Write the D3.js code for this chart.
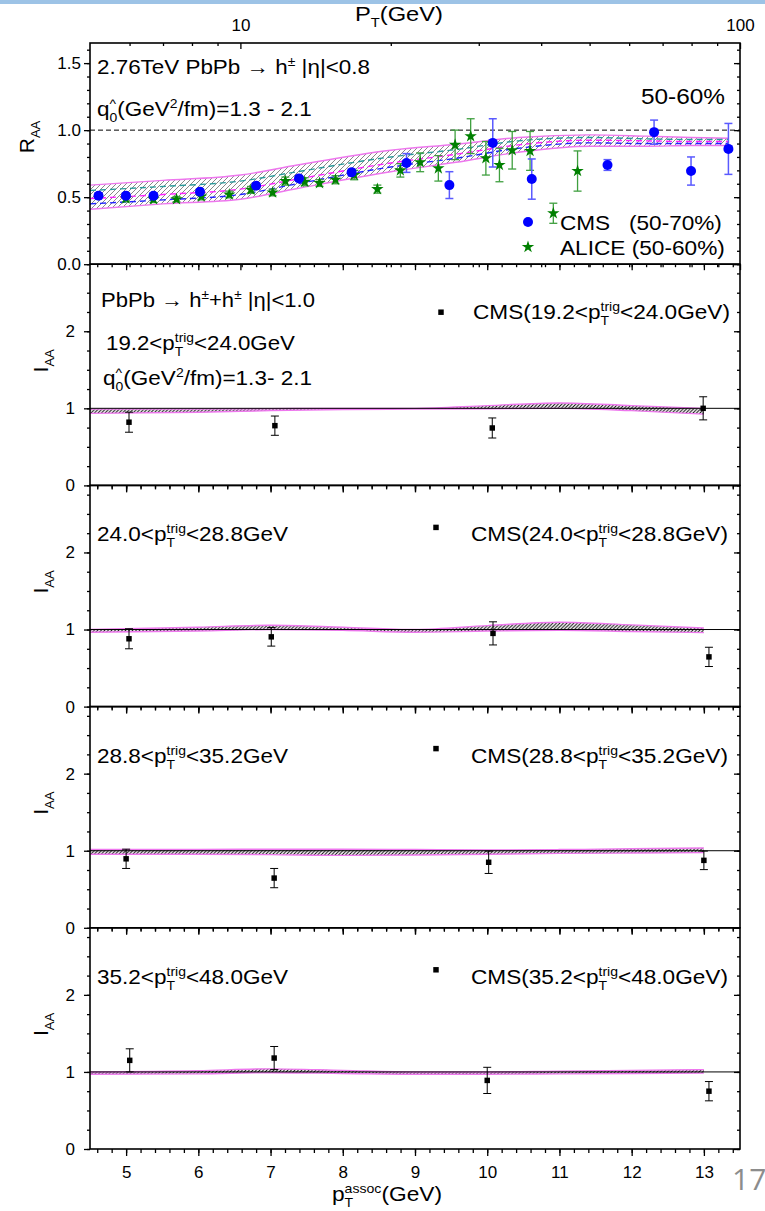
<!DOCTYPE html>
<html>
<head>
<meta charset="utf-8">
<script src="https://cdn.jsdelivr.net/npm/d3@7"></script>
<style>
body { margin: 0; background: #fff; }
svg { display: block; }
text { font-family: "Liberation Sans", Arial, sans-serif; fill: #000; }
</style>
</head>
<body>
<div id="chart"></div>
<script>
// ---- top panel: R_AA vs pT (log axis) ----
var bandPt = [5, 7, 10, 13, 20, 27, 36, 50, 65, 80, 95];
var bandUpper = [0.59, 0.625, 0.665, 0.74, 0.85, 0.895, 0.945, 0.965, 0.955, 0.945, 0.94];
var bandLower = [0.41, 0.45, 0.485, 0.565, 0.69, 0.76, 0.835, 0.88, 0.88, 0.885, 0.885];
var curveTeal = [0.55, 0.58, 0.62, 0.69, 0.80, 0.855, 0.92, 0.945, 0.935, 0.93, 0.93];
var curveMagenta = [0.49, 0.52, 0.56, 0.635, 0.755, 0.82, 0.89, 0.925, 0.92, 0.915, 0.915];
var curveBlue = [0.45, 0.48, 0.52, 0.60, 0.725, 0.79, 0.865, 0.905, 0.90, 0.90, 0.90];

var cmsPt = [5.2, 5.9, 6.7, 8.3, 10.75, 13.1, 16.7, 21.5, 26.2, 32.0, 38.3, 54.3, 67.3, 79.8, 94.8];
var cmsR = [0.51, 0.51, 0.51, 0.54, 0.585, 0.64, 0.685, 0.755, 0.59, 0.905, 0.635, 0.74, 0.985, 0.695, 0.86];
var cmsErr = [0.02, 0.02, 0.02, 0.02, 0.02, 0.02, 0.025, 0.07, 0.1, 0.18, 0.15, 0.04, 0.09, 0.105, 0.19];

var alicePt = [5.9, 6.7, 7.45, 8.35, 9.5, 10.5, 11.6, 12.3, 13.45, 14.4, 15.5, 16.9, 18.8, 20.9, 22.9, 24.9, 26.9, 28.9, 31.0, 33.0, 35.0, 38.0, 42.3, 47.3];
var aliceR = [0.49, 0.485, 0.485, 0.505, 0.52, 0.555, 0.535, 0.62, 0.615, 0.605, 0.63, 0.665, 0.56, 0.70, 0.76, 0.715, 0.89, 0.955, 0.79, 0.74, 0.85, 0.845, 0.38, 0.695];
var aliceErr = [0.025, 0.025, 0.02, 0.025, 0.025, 0.025, 0.025, 0.03, 0.03, 0.025, 0.03, 0.035, 0.03, 0.05, 0.07, 0.095, 0.11, 0.13, 0.125, 0.125, 0.14, 0.145, 0.075, 0.15];

// ---- lower panels: I_AA vs pT assoc ----
var trigBins = [["19.2", "24.0"], ["24.0", "28.8"], ["28.8", "35.2"], ["35.2", "48.0"]];
var bandAssoc = [4.5, 6, 7, 8, 9, 10, 11, 12, 13];
var iaaUpper = [
  [0.99, 0.99, 0.995, 1.0, 1.0, 1.035, 1.07, 1.035, 1.0],
  [1.0, 1.03, 1.055, 1.03, 1.0, 1.05, 1.095, 1.06, 1.02],
  [1.015, 1.015, 1.02, 1.02, 1.015, 1.01, 1.015, 1.025, 1.035],
  [1.0, 1.015, 1.04, 1.02, 1.0, 1.0, 1.01, 1.02, 1.03]
];
var iaaLower = [
  [0.935, 0.95, 0.97, 0.985, 0.99, 0.995, 1.0, 0.97, 0.925],
  [0.965, 0.98, 1.0, 0.99, 0.965, 0.98, 0.99, 0.975, 0.96],
  [0.955, 0.955, 0.95, 0.94, 0.945, 0.955, 0.965, 0.97, 0.975],
  [0.97, 0.975, 0.99, 0.98, 0.97, 0.97, 0.975, 0.98, 0.985]
];
var cmsAssoc = [
  [5.04, 7.06, 10.07, 12.99],
  [5.04, 7.01, 10.08, 13.07],
  [5.0, 7.05, 10.02, 13.0],
  [5.05, 7.05, 10.0, 13.07]
];
var cmsIaa = [
  [0.82, 0.775, 0.745, 1.0],
  [0.88, 0.905, 0.95, 0.645],
  [0.895, 0.645, 0.85, 0.875],
  [1.15, 1.18, 0.89, 0.75]
];
var cmsIaaErr = [
  [0.13, 0.125, 0.13, 0.15],
  [0.13, 0.12, 0.15, 0.125],
  [0.125, 0.125, 0.145, 0.12],
  [0.15, 0.15, 0.17, 0.125]
];

var W = 765, H = 1211;
var left = 90, right = 740, top0 = 43, panelH = 221.2;

var svg = d3.select("#chart").append("svg")
    .attr("width", W)
    .attr("height", H);

// slide strip on top
svg.append("rect").attr("x", 0).attr("y", 0).attr("width", W).attr("height", 4).style("fill", "#9dc3e6");

var defs = svg.append("defs");
function hatch(id, color, step, width) {
    defs.append("pattern")
        .attr("id", id)
        .attr("patternUnits", "userSpaceOnUse")
        .attr("width", step)
        .attr("height", step)
        .append("path")
        .attr("d", "M-1,1 l2,-2 M0," + step + " l" + step + ",-" + step + " M" + (step - 1) + "," + (step + 1) + " l2,-2")
        .style("stroke", color)
        .style("stroke-width", width);
}
hatch("hatchGray", "#555", 5, 0.7);
hatch("hatchBlack", "#000", 3.5, 1);

// text with stacked super/subscripts, optionally stretched to a width
function richText(parent, x, y, runs, size, anchor, fitW) {
    var g = parent.append("g").style("font-size", size + "px");
    var cx = 0;
    runs.forEach(function (r) {
        if (typeof r === "string") {
            var t = g.append("text").attr("x", cx).attr("y", 0).style("white-space", "pre").text(r);
            cx += t.node().getComputedTextLength();
        } else {
            var w = 0;
            if (r.sup) {
                var ts = g.append("text").attr("x", cx).attr("y", -size * 0.4)
                    .style("font-size", (size * 0.62) + "px").text(r.sup);
                w = Math.max(w, ts.node().getComputedTextLength());
            }
            if (r.sub) {
                var tb = g.append("text").attr("x", cx).attr("y", size * 0.3)
                    .style("font-size", (size * 0.62) + "px").text(r.sub);
                w = Math.max(w, tb.node().getComputedTextLength());
            }
            cx += w;
        }
    });
    var sx = fitW ? fitW / cx : 1;
    var x0 = anchor === "middle" ? x - cx * sx / 2 : x;
    g.attr("transform", "translate(" + x0 + "," + y + ") scale(" + sx + ",1)");
    return g;
}

function styleAxis(g, fontSize) {
    g.select(".domain").remove();
    g.selectAll("line").style("stroke", "#000").style("stroke-width", 1.3);
    g.selectAll("text").style("font-size", fontSize + "px").style("font-family", "Liberation Sans, Arial, sans-serif").style("fill", "#000");
}

function errorBars(g, xs, ys, es, xScale, yScale, color, w, cap) {
    var bars = g.append("g").style("stroke", color).style("stroke-width", w).style("fill", "none");
    xs.forEach(function (v, i) {
        var x = xScale(v), y0 = yScale(ys[i] - es[i]), y1 = yScale(ys[i] + es[i]);
        bars.append("line").attr("x1", x).attr("x2", x).attr("y1", y0).attr("y2", y1);
        bars.append("line").attr("x1", x - cap).attr("x2", x + cap).attr("y1", y0).attr("y2", y0);
        bars.append("line").attr("x1", x - cap).attr("x2", x + cap).attr("y1", y1).attr("y2", y1);
    });
}

function curve(g, xs, ys, xScale, yScale, color, width, dash) {
    g.append("path")
        .datum(xs.map(function (v, i) { return [v, ys[i]]; }))
        .attr("d", d3.line().curve(d3.curveMonotoneX)
            .x(function (d) { return xScale(d[0]); })
            .y(function (d) { return yScale(d[1]); }))
        .style("fill", "none")
        .style("stroke", color)
        .style("stroke-width", width)
        .style("stroke-dasharray", dash || null);
}

var xLog = d3.scaleLog().domain([5, 100]).range([left, right]);
var xLin = d3.scaleLinear().domain([4.5, 13.5]).range([left, right]);

function panelTop(i) { return top0 + i * panelH; }

// ================= panel 1 =================
var y1 = d3.scaleLinear().domain([0, 1.65]).range([panelTop(0) + panelH, panelTop(0)]);
var p1 = svg.append("g");

var bandData = bandPt.map(function (p, i) { return { p: p, lo: bandLower[i], hi: bandUpper[i] }; });
p1.append("path")
    .datum(bandData)
    .attr("d", d3.area().curve(d3.curveMonotoneX)
        .x(function (d) { return xLog(d.p); })
        .y0(function (d) { return y1(d.lo); })
        .y1(function (d) { return y1(d.hi); }))
    .style("fill", "url(#hatchGray)");

curve(p1, bandPt, bandUpper, xLog, y1, "#ee77ee", 1.4);
curve(p1, bandPt, bandLower, xLog, y1, "#ee77ee", 1.4);
curve(p1, bandPt, curveTeal, xLog, y1, "#2a9a9a", 1.4, "6,4");
curve(p1, bandPt, curveMagenta, xLog, y1, "#ff22ff", 1.4, "6,4");
curve(p1, bandPt, curveBlue, xLog, y1, "#2222ff", 1.4, "6,4");

p1.append("line")
    .attr("x1", left).attr("x2", right)
    .attr("y1", y1(1)).attr("y2", y1(1))
    .style("stroke", "#000").style("stroke-width", 1).style("stroke-dasharray", "5,3");

errorBars(p1, alicePt, aliceR, aliceErr, xLog, y1, "#3f9f3f", 1.3, 4);
errorBars(p1, cmsPt, cmsR, cmsErr, xLog, y1, "#5a5aff", 1.5, 4);

var star = d3.symbol().type(d3.symbolStar).size(48);
p1.selectAll(".alice")
    .data(alicePt)
    .enter()
    .append("path")
    .attr("transform", function (d, i) { return "translate(" + xLog(d) + "," + y1(aliceR[i]) + ")"; })
    .attr("d", star)
    .style("fill", "#008000");

p1.selectAll(".cms")
    .data(cmsPt)
    .enter()
    .append("circle")
    .attr("cx", function (d) { return xLog(d); })
    .attr("cy", function (d, i) { return y1(cmsR[i]); })
    .attr("r", 5)
    .style("fill", "#0000ff");

// legend panel 1
p1.append("circle").attr("cx", 528).attr("cy", 222).attr("r", 5).style("fill", "#0000ff");
p1.append("path").attr("transform", "translate(528,247)").attr("d", star).style("fill", "#008000");
richText(p1, 560, 230, ["CMS   (50-70%)"], 21, "start", 162);
richText(p1, 560, 255, ["ALICE (50-60%)"], 21, "start", 165);

richText(p1, 97, 74, ["2.76TeV PbPb ", "\u2192", " h", { sup: "\u00b1" }, " |\u03b7|<0.8"], 20, "start", 273);
richText(p1, 97, 116, ["q", { sup: "^", sub: "0" }, "(GeV", { sup: "2" }, "/fm)=1.3 - 2.1"], 20, "start", 215);
richText(p1, 641, 104, ["50-60%"], 22, "start", 84);

// axes panel 1
var yMajor1 = [0, 0.5, 1.0, 1.5];
var yMinor1 = d3.range(0, 1.66, 0.1);
styleAxis(p1.append("g").attr("transform", "translate(" + left + ",0)")
    .call(d3.axisLeft(y1).tickValues(yMajor1).tickSize(6).tickPadding(3).tickFormat(d3.format(".1f"))), 17);
styleAxis(p1.append("g").attr("transform", "translate(" + left + ",0)")
    .call(d3.axisLeft(y1).tickValues(yMinor1).tickSize(3).tickFormat("")), 17);
styleAxis(p1.append("g").attr("transform", "translate(" + right + ",0)")
    .call(d3.axisRight(y1).tickValues(yMajor1).tickSize(-6).tickFormat("")), 17);
styleAxis(p1.append("g").attr("transform", "translate(" + right + ",0)")
    .call(d3.axisRight(y1).tickValues(yMinor1).tickSize(-3).tickFormat("")), 17);

var logMajor = [10, 100];
var logMinor = [6, 7, 8, 9, 20, 30, 40, 50, 60, 70, 80, 90];
styleAxis(p1.append("g").attr("transform", "translate(0," + panelTop(0) + ")")
    .call(d3.axisTop(xLog).tickValues(logMajor).tickSize(-6).tickPadding(12).tickFormat(d3.format("d"))), 17);
styleAxis(p1.append("g").attr("transform", "translate(0," + panelTop(0) + ")")
    .call(d3.axisTop(xLog).tickValues(logMinor).tickSize(-3).tickFormat("")), 17);
styleAxis(p1.append("g").attr("transform", "translate(0," + (panelTop(0) + panelH) + ")")
    .call(d3.axisBottom(xLog).tickValues(logMajor).tickSize(6).tickFormat("")), 17);
styleAxis(p1.append("g").attr("transform", "translate(0," + (panelTop(0) + panelH) + ")")
    .call(d3.axisBottom(xLog).tickValues(logMinor).tickSize(3).tickFormat("")), 17);

richText(svg, 399, 21, ["P", { sub: "T" }, "(GeV)"], 20, "middle", 88);
var rHolder = svg.append("g").attr("transform", "translate(34,137) rotate(-90)");
richText(rHolder, 0, 0, ["R", { sub: "AA" }], 21, "middle");

p1.append("rect")
    .attr("x", left).attr("y", panelTop(0))
    .attr("width", right - left).attr("height", panelH)
    .style("fill", "none").style("stroke", "#000").style("stroke-width", 1.6);

// ================= I_AA panels =================
var linMajor = d3.range(5, 14, 1);
var linMinor = d3.range(4.6, 13.5, 0.2);
var square = d3.symbol().type(d3.symbolSquare).size(30);

trigBins.forEach(function (bin, k) {
    var t = panelTop(k + 1), b = t + panelH;
    var y = d3.scaleLinear().domain([0, 2.87]).range([b, t]);
    var g = svg.append("g");

    var data = bandAssoc.map(function (p, i) { return { p: p, lo: iaaLower[k][i], hi: iaaUpper[k][i] }; });
    g.append("path")
        .datum(data)
        .attr("d", d3.area().curve(d3.curveMonotoneX)
            .x(function (d) { return xLin(d.p); })
            .y0(function (d) { return y(d.lo); })
            .y1(function (d) { return y(d.hi); }))
        .style("fill", "url(#hatchBlack)");
    curve(g, bandAssoc, iaaUpper[k], xLin, y, "#ee77ee", 1.4);
    curve(g, bandAssoc, iaaLower[k], xLin, y, "#ee77ee", 1.4);

    g.append("line")
        .attr("x1", left).attr("x2", right)
        .attr("y1", y(1)).attr("y2", y(1))
        .style("stroke", "#000").style("stroke-width", 1);

    errorBars(g, cmsAssoc[k], cmsIaa[k], cmsIaaErr[k], xLin, y, "#000", 1, 4);
    g.selectAll(".pt")
        .data(cmsAssoc[k])
        .enter()
        .append("path")
        .attr("transform", function (d, i) { return "translate(" + xLin(d) + "," + y(cmsIaa[k][i]) + ")"; })
        .attr("d", square)
        .style("fill", "#000");

    // labels
    if (k === 0) {
        richText(g, 101, 307, ["PbPb ", "\u2192", " h", { sup: "\u00b1" }, "+h", { sup: "\u00b1" }, " |\u03b7|<1.0"], 20, "start", 214);
        richText(g, 106, 350, [bin[0] + "<p", { sup: "trig", sub: "T" }, "<" + bin[1] + "GeV"], 20, "start", 189);
        richText(g, 103, 385, ["q", { sup: "^", sub: "0" }, "(GeV", { sup: "2" }, "/fm)=1.3- 2.1"], 20, "start", 209);
        g.append("path").attr("transform", "translate(441," + (t + 48) + ")").attr("d", square).style("fill", "#000");
        richText(g, 473, t + 55, ["CMS(" + bin[0] + "<p", { sup: "trig", sub: "T" }, "<" + bin[1] + "GeV)"], 20, "start", 257);
    } else {
        richText(g, 97, t + 56, [bin[0] + "<p", { sup: "trig", sub: "T" }, "<" + bin[1] + "GeV"], 20, "start", 191);
        g.append("path").attr("transform", "translate(436," + (t + 42) + ")").attr("d", square).style("fill", "#000");
        richText(g, 471, t + 56, ["CMS(" + bin[0] + "<p", { sup: "trig", sub: "T" }, "<" + bin[1] + "GeV)"], 20, "start", 257);
    }

    var iHolder = g.append("g").attr("transform", "translate(48," + (t + panelH / 2 - 14) + ") rotate(-90)");
    richText(iHolder, 0, 0, ["I", { sub: "AA" }], 21, "middle");

    // axes
    var yMajor = [0, 1, 2];
    var yMinor = d3.range(0, 2.87, 0.25);
    styleAxis(g.append("g").attr("transform", "translate(" + left + ",0)")
        .call(d3.axisLeft(y).tickValues(yMajor).tickSize(6).tickPadding(9).tickFormat(d3.format("d"))), 17);
    styleAxis(g.append("g").attr("transform", "translate(" + left + ",0)")
        .call(d3.axisLeft(y).tickValues(yMinor).tickSize(3).tickFormat("")), 17);
    styleAxis(g.append("g").attr("transform", "translate(" + right + ",0)")
        .call(d3.axisRight(y).tickValues(yMajor).tickSize(-6).tickFormat("")), 17);
    styleAxis(g.append("g").attr("transform", "translate(" + right + ",0)")
        .call(d3.axisRight(y).tickValues(yMinor).tickSize(-3).tickFormat("")), 17);
    styleAxis(g.append("g").attr("transform", "translate(0," + t + ")")
        .call(d3.axisTop(xLin).tickValues(linMajor).tickSize(-6).tickFormat("")), 17);
    styleAxis(g.append("g").attr("transform", "translate(0," + t + ")")
        .call(d3.axisTop(xLin).tickValues(linMinor).tickSize(-3).tickFormat("")), 17);
    styleAxis(g.append("g").attr("transform", "translate(0," + b + ")")
        .call(d3.axisBottom(xLin).tickValues(linMajor).tickSize(7).tickPadding(10)
            .tickFormat(k === 3 ? d3.format("d") : "")), 17);
    styleAxis(g.append("g").attr("transform", "translate(0," + b + ")")
        .call(d3.axisBottom(xLin).tickValues(linMinor).tickSize(4).tickFormat("")), 17);

    g.append("rect")
        .attr("x", left).attr("y", t)
        .attr("width", right - left).attr("height", panelH)
        .style("fill", "none").style("stroke", "#000").style("stroke-width", 1.6);
});

richText(svg, 387, 1201, ["p", { sup: "assoc", sub: "T" }, "(GeV)"], 20, "middle", 110);

// slide number
svg.append("text").attr("x", 732).attr("y", 1190)
    .style("font-family", "Open Sans, Liberation Sans, sans-serif")
    .style("font-size", "30px").style("fill", "#8c8c8c").text("17");
</script>
</body>
</html>
